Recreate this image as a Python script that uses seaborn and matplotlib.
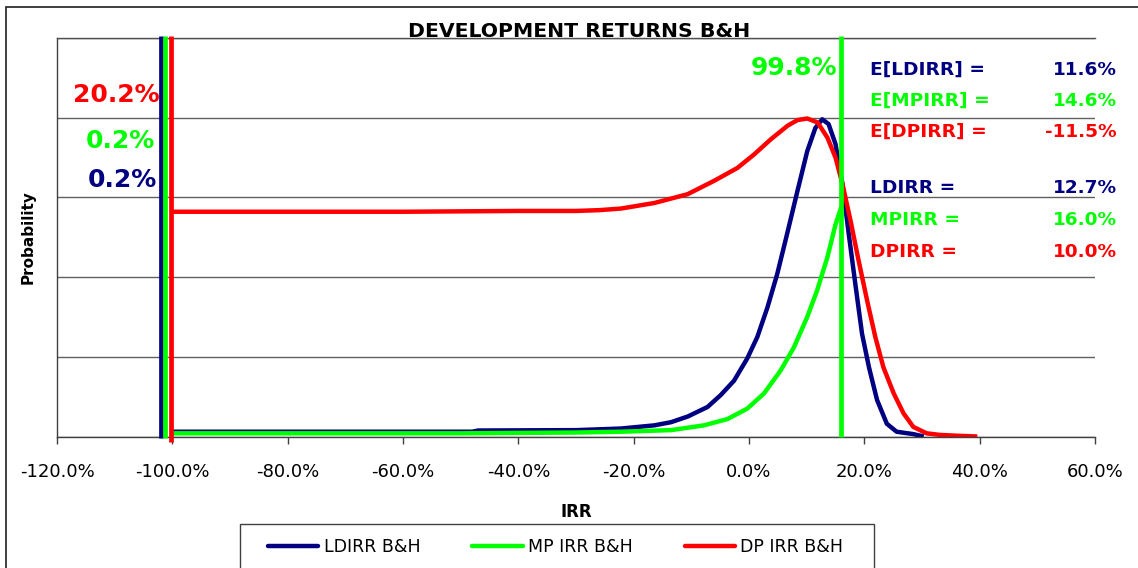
import numpy as np
import pandas as pd
import matplotlib
matplotlib.use("Agg")
import matplotlib.pyplot as plt
import seaborn as sns
from matplotlib.patches import Rectangle
from matplotlib.lines import Line2D

# IRR (%) vs probability density (arbitrary units)
ld_x = [-100, -48, -47, -30, -26, -22.2, -16.4, -13.5, -10.65, -7.2, -4.9, -2.6, -0.3, 1.45, 3.2,
        4.9, 6.6, 8.4, 10.1, 11.5, 12.7, 13.8, 15.0, 16.2, 17.3, 18.5, 19.6, 20.8, 22.2, 23.9,
        25.6, 28.5, 30.3]
ld_y = [0.06, 0.06, 0.075, 0.08, 0.09, 0.10, 0.14, 0.18, 0.25, 0.37, 0.52, 0.70, 0.98, 1.25, 1.62,
        2.04, 2.54, 3.08, 3.58, 3.87, 3.98, 3.92, 3.67, 3.17, 2.54, 1.88, 1.29, 0.87, 0.46, 0.16,
        0.06, 0.03, 0.0]

mp_x = [-100, -50, -30, -22.2, -13.5, -7.8, -3.7, -0.3, 2.6, 5.5, 7.8, 10.1, 11.8, 13.6, 15.0, 16.0]
mp_y = [0.04, 0.04, 0.05, 0.06, 0.08, 0.14, 0.22, 0.35, 0.54, 0.83, 1.12, 1.50, 1.83, 2.25, 2.66,
        2.88]

dp_x = [-100.3, -60, -40, -30, -26, -22.2, -16.4, -10.65, -6.0, -2.0, 0.9, 3.8, 6.7, 8.4, 10.1,
        11.9, 13.6, 15.0, 16.2, 17.6, 19.0, 20.5, 21.9, 23.3, 25.1, 26.8, 28.5, 30.8, 33.1, 36,
        39.6]
dp_y = [2.82, 2.82, 2.83, 2.83, 2.84, 2.86, 2.93, 3.04, 3.21, 3.37, 3.54, 3.73, 3.90, 3.97, 3.99,
        3.94, 3.75, 3.50, 3.17, 2.71, 2.21, 1.70, 1.25, 0.87, 0.54, 0.29, 0.12, 0.04, 0.02, 0.01,
        0.0]

# total-loss point masses (drawn as bars at -100%) and MP mode line
mass_x = [-102.0, -101.2, -100.3]
mode_x = 16.0

series_names = ["LDIRR B&H", "MP IRR B&H", "DP IRR B&H"]
colors = ["#000080", "#00FF00", "#FF0000"]

loss_probs = ["0.2%", "0.2%", "20.2%"]
upper_prob = "99.8%"
exp_labels = ["E[LDIRR] =", "E[MPIRR] =", "E[DPIRR] ="]
exp_values = ["11.6%", "14.6%", "-11.5%"]
mode_labels = ["LDIRR =", "MPIRR =", "DPIRR ="]
mode_values = ["12.7%", "16.0%", "10.0%"]

xticks = list(range(-120, 61, 20))

sns.set_theme(style="white")
plt.rcParams["font.family"] = ["DejaVu Sans"]
plt.rcParams["text.color"] = "black"
plt.rcParams["xtick.labelcolor"] = "black"

W, H = 1138, 568
fig = plt.figure(figsize=(W / 100, H / 100), dpi=100)
ax = fig.add_axes([57 / W, 1 - 436.5 / H, 1038 / W, 398.5 / H])

lw = 3.2
curves = [(ld_x, ld_y), (mp_x, mp_y), (dp_x, dp_y)]
for (xs, ys), c in zip(curves, colors):
    df = pd.DataFrame({"irr": xs, "p": ys})
    sns.lineplot(data=df, x="irr", y="p", color=c, lw=lw, ax=ax, legend=False,
                 solid_joinstyle="round", solid_capstyle="butt")

# point-mass bars at total loss
bottoms = [-0.02, -0.02, -0.065]
for x, c, b in zip(mass_x, colors, bottoms):
    ax.vlines(x, b, 5.02, color=c, lw=3.4, clip_on=False, zorder=5)
ax.vlines(mode_x, 0, 5.02, color=colors[1], lw=3.4, clip_on=False, zorder=5)

ax.set_xlim(-120, 60)
ax.set_ylim(0, 5)
ax.set_xticks(xticks)
ax.set_xticklabels([f"{v:.1f}%" for v in xticks], fontsize=13)
ax.set_yticks(range(0, 6))
ax.set_yticklabels([])
ax.tick_params(axis="x", direction="out", length=5, width=1, color="#404040", pad=14,
               labelcolor="black", bottom=True)
ax.tick_params(axis="y", length=0)
ax.yaxis.grid(True, color="#606060", lw=1)
ax.xaxis.grid(False)
ax.set_xlabel("")
ax.set_ylabel("")
for s in ["left", "bottom"]:
    ax.spines[s].set_color("#404040")
    ax.spines[s].set_linewidth(1)
ax.spines["top"].set_color("#505050")
ax.spines["top"].set_linewidth(1)
ax.spines["right"].set_visible(False)

# probability annotations
def fy(py):
    return (436.5 - py) / 398.5

def fx(px):
    return (px - 57) / 1038

left_x = [157.3, 155, 159.3]
left_base = [186.7, 148.3, 101.7]
for txt, c, px, py in zip(loss_probs, colors, left_x, left_base):
    ax.text(fx(px), fy(py), txt, color=c, fontsize=18, fontweight="bold",
            ha="right", va="baseline", transform=ax.transAxes)
ax.text(fx(837.3), fy(75), upper_prob, color=colors[1], fontsize=18, fontweight="bold",
        ha="right", va="baseline", transform=ax.transAxes)

exp_base = [75, 106, 136.7]
mode_base = [193.3, 225, 256.7]
for lab, val, c, py in zip(exp_labels, exp_values, colors, exp_base):
    ax.text(fx(870), fy(py), lab, color=c, fontsize=13.3, fontweight="bold",
            ha="left", va="baseline", transform=ax.transAxes, clip_on=False)
    ax.text(fx(1117), fy(py), val, color=c, fontsize=13.3, fontweight="bold",
            ha="right", va="baseline", transform=ax.transAxes, clip_on=False)
for lab, val, c, py in zip(mode_labels, mode_values, colors, mode_base):
    ax.text(fx(870), fy(py), lab, color=c, fontsize=13.3, fontweight="bold",
            ha="left", va="baseline", transform=ax.transAxes, clip_on=False)
    ax.text(fx(1117), fy(py), val, color=c, fontsize=13.3, fontweight="bold",
            ha="right", va="baseline", transform=ax.transAxes, clip_on=False)

# titles
fig.text(579 / W, 1 - 36.7 / H, "DEVELOPMENT RETURNS B&H", fontsize=14.7, fontweight="bold",
         ha="center", va="baseline", color="black")
fig.text(576 / W, 1 - 516.7 / H, "IRR", fontsize=12, fontweight="bold",
         ha="center", va="baseline", color="black")
fig.text(28 / W, 1 - 237 / H, "Probability", fontsize=11, fontweight="bold",
         ha="center", va="center", rotation=90, color="black")

# legend
handles = [Line2D([0], [0], color=c, lw=lw) for c in colors]
fig.legend(handles, series_names, loc="center left", bbox_to_anchor=(268 / W, 1 - 547 / H),
           ncol=3, frameon=False, fontsize=12.5, handlelength=2.9, handletextpad=0.3,
           columnspacing=3.0, borderpad=0, borderaxespad=0, labelcolor="black")
fig.patches.append(Rectangle((240 / W, -0.1), (874 - 240) / W, (1 - 524 / H) + 0.1,
                             transform=fig.transFigure, fill=False, edgecolor="#404040", lw=1))

# outer chart frame
fig.patches.append(Rectangle((6 / W, -0.1), 1.2, (1 - 6.7 / H) + 0.1,
                             transform=fig.transFigure, fill=False, edgecolor="#303030", lw=1.3))

fig.savefig("out.png", dpi=100)
